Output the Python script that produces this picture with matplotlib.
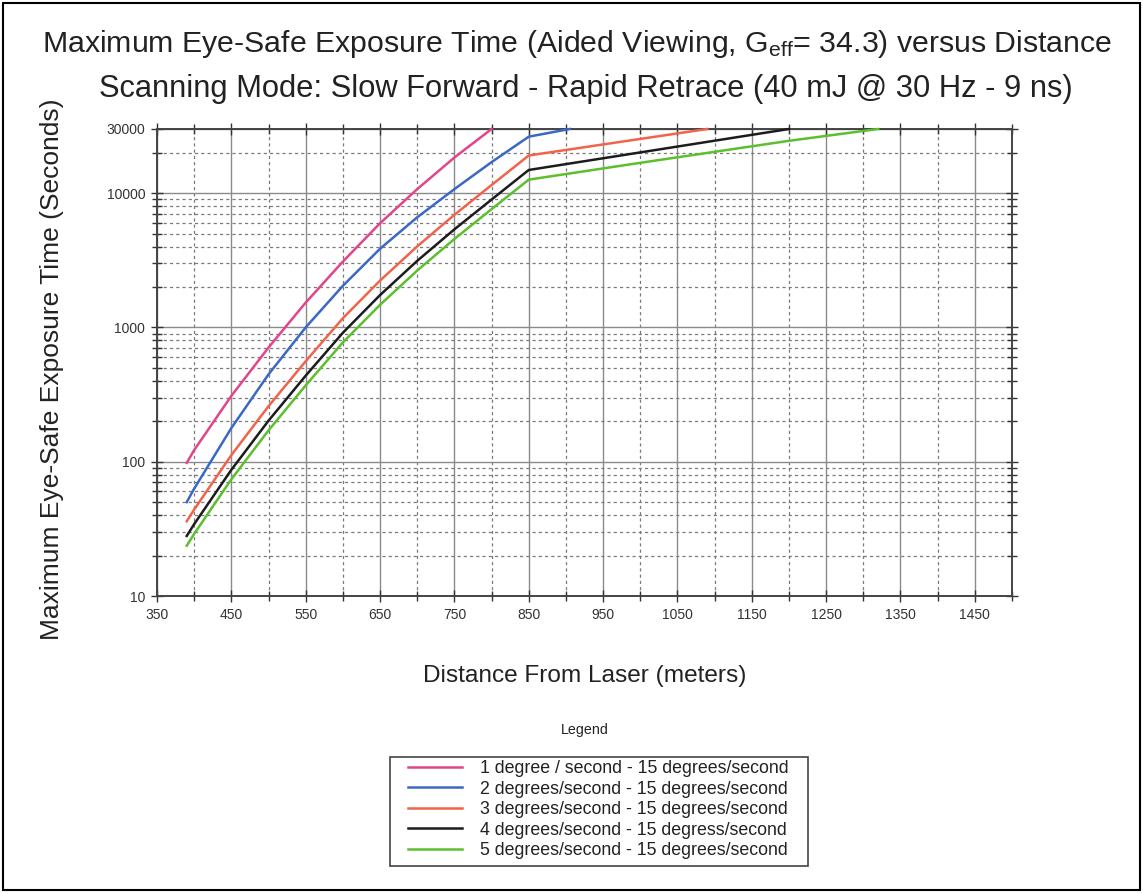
import matplotlib
matplotlib.use("Agg")
import matplotlib.pyplot as plt
from matplotlib.ticker import FixedLocator, NullFormatter
from matplotlib.patches import Rectangle

plt.rcParams['font.family'] = ['Liberation Sans', 'DejaVu Sans']
plt.rcParams['mathtext.default'] = 'regular'

# ---- data ----
x_pink = [390, 400, 450, 500, 550, 600, 650, 700, 750, 800]
y_pink = [98, 122, 309, 708, 1530, 3090, 5960, 10700, 18400, 30000]

x_blue = [390, 400, 450, 500, 550, 600, 650, 700, 750, 800, 850, 905]
y_blue = [50, 63, 178, 447, 1000, 2040, 3850, 6600, 10700, 17000, 26300, 30000]

x_red = [390, 400, 450, 500, 550, 600, 650, 700, 750, 800, 850, 1090]
y_red = [36, 44, 112, 259, 560, 1170, 2230, 4010, 6890, 11480, 19050, 30000]

x_black = [390, 400, 450, 500, 550, 600, 650, 700, 750, 800, 850, 1200]
y_black = [28, 34.3, 87, 202, 437, 912, 1740, 3130, 5370, 8950, 14860, 30000]

x_green = [390, 400, 450, 500, 550, 600, 650, 700, 750, 800, 850, 1000, 1200, 1320]
y_green = [23.7, 29, 74, 171, 370, 773, 1472, 2650, 4550, 7590, 12590, 16800, 24500, 30000]

labels = [
    "1 degree / second - 15 degrees/second",
    "2 degrees/second - 15 degrees/second",
    "3 degrees/second - 15 degrees/second",
    "4 degrees/second - 15 degress/second",
    "5 degrees/second - 15 degrees/second",
]
colors = ["#e2458a", "#3a68c4", "#f2634c", "#1c1c1c", "#5cbf2e"]

x_major = [350, 450, 550, 650, 750, 850, 950, 1050, 1150, 1250, 1350, 1450]
x_minor = [400, 500, 600, 700, 800, 900, 1000, 1100, 1200, 1300, 1400, 1500]
y_major = [10, 100, 1000, 10000, 30000]
y_major_labels = ["10", "100", "1000", "10000", "30000"]
y_minor = [20, 30, 40, 50, 60, 70, 80, 90,
           200, 300, 400, 500, 600, 700, 800, 900,
           2000, 3000, 4000, 5000, 6000, 7000, 8000, 9000, 20000]

title1 = "Maximum Eye-Safe Exposure Time (Aided Viewing, G$_{eff}$= 34.3) versus Distance"
title2 = "Scanning Mode: Slow Forward - Rapid Retrace (40 mJ @ 30 Hz - 9 ns)"
xlabel = "Distance From Laser (meters)"
ylabel = "Maximum Eye-Safe Exposure Time (Seconds)"

# ---- figure ----
W, H = 1143, 893
fig = plt.figure(figsize=(W / 100, H / 100), dpi=100)
fig.patch.set_facecolor("white")

L, R, T, B = 157, 1012, 129, 596
ax = fig.add_axes([L / W, 1 - B / H, (R - L) / W, (B - T) / H])
ax.set_yscale("log")
ax.set_xlim(350, 1500)
ax.set_ylim(10, 30000)

series = [(x_pink, y_pink), (x_blue, y_blue), (x_red, y_red),
          (x_black, y_black), (x_green, y_green)]
handles = []
for (xs, ys), c, lab in zip(series, colors, labels):
    h, = ax.plot(xs, ys, color=c, lw=1.8, label=lab, zorder=3, clip_on=False)
    handles.append(h)

ax.xaxis.set_major_locator(FixedLocator(x_major))
ax.xaxis.set_minor_locator(FixedLocator(x_minor))
ax.set_xticklabels([str(v) for v in x_major])
ax.yaxis.set_major_locator(FixedLocator(y_major))
ax.yaxis.set_minor_locator(FixedLocator(y_minor))
ax.set_yticklabels(y_major_labels)
ax.yaxis.set_minor_formatter(NullFormatter())

ax.grid(True, which="major", color="#8a8a8a", lw=1.0, ls="-", zorder=1)
ax.grid(True, which="minor", color="#7a7a7a", lw=0.9, ls=(0, (2.5, 2.5)), zorder=1)
ax.set_axisbelow(True)

ax.tick_params(which="both", direction="inout", top=True, right=True,
               color="#333333", width=1.0)
ax.tick_params(which="major", length=9, labelsize=10, labelcolor="#333333", pad=4)
ax.tick_params(which="minor", length=7)
for s in ax.spines.values():
    s.set_color("#444444")
    s.set_linewidth(1.4)

# titles and labels
fig.text(577 / W, 1 - 44 / H, title1, ha="center", va="center", fontsize=21.8, color="#222222")
fig.text(586 / W, 1 - 89 / H, title2, ha="center", va="center", fontsize=22.2, color="#222222")
fig.text(585 / W, 1 - 676 / H, xlabel, ha="center", va="center", fontsize=17.6, color="#222222")
fig.text(52 / W, 1 - 369 / H, ylabel, ha="center", va="center", rotation=90, fontsize=19, color="#222222")

fig.text(585 / W, 1 - 730 / H, "Legend", ha="center", va="center", fontsize=10.3, color="#222222")

# legend box drawn separately, legend entries without frame
fig.patches.append(Rectangle((390 / W, 1 - 866 / H), (808 - 390) / W, (866 - 757) / H,
                             transform=fig.transFigure, fill=False,
                             edgecolor="#444444", lw=1.2))
leg = fig.legend(handles=handles, labels=labels, loc="upper left",
                 bbox_to_anchor=(408 / W, 1 - 760 / H), fontsize=12.8,
                 frameon=False, handlelength=3.03, handletextpad=1.0,
                 labelspacing=0.2, borderpad=0.0, borderaxespad=0)
for t in leg.get_texts():
    t.set_color("#222222")

# outer frame
fig.patches.append(Rectangle((3 / W, 3 / H), 1 - 6 / W, 1 - 6 / H, transform=fig.transFigure,
                             fill=False, edgecolor="black", lw=1.5))

fig.savefig("out.png", dpi=100)
